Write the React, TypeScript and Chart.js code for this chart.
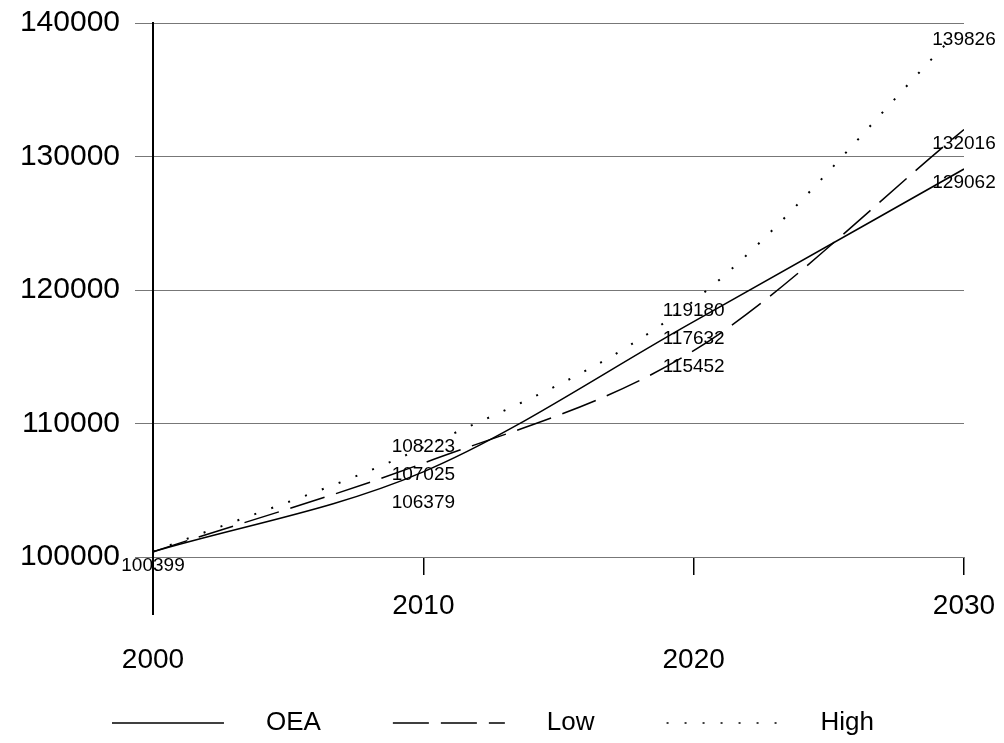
import React, { useEffect, useRef } from 'react';
import { Chart, registerables } from 'chart.js';

Chart.register(...registerables);

// ---- Data ----
const years = [2000, 2010, 2020, 2030];
const oeaValues = [100399, 106379, 117632, 129062];
const lowValues = [100399, 107025, 115452, 132016];
const highValues = [100399, 108223, 119180, 139826];
const seriesNames = ['OEA', 'Low', 'High'];
const yTickValues = [100000, 110000, 120000, 130000, 140000];
const xTickValues = [2000, 2010, 2020, 2030];

const FONT = '"Liberation Sans", Arial, Helvetica, sans-serif';

const toPoints = (vals: number[]) => years.map((yr, i) => ({ x: yr, y: vals[i] }));

// Data labels drawn near each point, with simple overlap avoidance
const dataLabelPlugin = {
  id: 'dataLabels',
  afterDatasetsDraw(chart: any) {
    const ctx = chart.ctx;
    ctx.save();
    ctx.font = `19px ${FONT}`;
    ctx.fillStyle = '#000';
    ctx.textAlign = 'center';
    ctx.textBaseline = 'middle';
    const n = years.length;
    const offset = 14;
    const gap = 28;
    for (let i = 0; i < n; i++) {
      let labels: { x: number; y: number; text: string }[] = [];
      chart.data.datasets.forEach((ds: any, di: number) => {
        const meta = chart.getDatasetMeta(di);
        const el = meta.data[i];
        if (!el) return;
        const text = String(ds.data[i].y);
        if (labels.some((l) => l.text === text)) return;
        labels.push({ x: el.x, y: el.y + offset, text });
      });
      labels.sort((a, b) => a.y - b.y);
      let clusters = labels.map((l) => ({ items: [l], center: l.y }));
      let changed = true;
      while (changed) {
        changed = false;
        for (let c = 0; c < clusters.length - 1; c++) {
          const a = clusters[c];
          const b = clusters[c + 1];
          const aBottom = a.center + ((a.items.length - 1) * gap) / 2;
          const bTop = b.center - ((b.items.length - 1) * gap) / 2;
          if (bTop - aBottom < gap) {
            const items = a.items.concat(b.items);
            const center =
              (a.center * a.items.length + b.center * b.items.length) / items.length;
            clusters.splice(c, 2, { items, center });
            changed = true;
            break;
          }
        }
      }
      clusters.forEach((cl) => {
        const start = cl.center - ((cl.items.length - 1) * gap) / 2;
        cl.items.forEach((it, k) => {
          ctx.fillText(it.text, it.x, start + k * gap);
        });
      });
    }
    ctx.restore();
  },
};

// Y axis line extending below plot area
const axisExtensionPlugin = {
  id: 'axisExtension',
  afterDraw(chart: any) {
    const { ctx, chartArea } = chart;
    ctx.save();
    ctx.strokeStyle = '#000';
    ctx.lineWidth = 2;
    ctx.beginPath();
    ctx.moveTo(chartArea.left, chartArea.top);
    ctx.lineTo(chartArea.left, chartArea.bottom + 58);
    ctx.stroke();
    ctx.restore();
  },
};

// Custom legend at the bottom
const legendPlugin = {
  id: 'customLegend',
  afterDraw(chart: any) {
    const ctx = chart.ctx;
    ctx.save();
    ctx.font = `26px ${FONT}`;
    const boxW = 112;
    const boxGap = 42;
    const itemGap = 72;
    const items = chart.data.datasets.map((ds: any) => ({
      text: ds.label,
      dash: ds.borderDash || [],
      w: ctx.measureText(ds.label).width,
    }));
    const total =
      items.reduce((s: number, it: any) => s + boxW + boxGap + it.w, 0) +
      itemGap * (items.length - 1);
    let x = (chart.width - total) / 2 - 9;
    const y = chart.height - 20;
    items.forEach((it: any) => {
      ctx.strokeStyle = '#000';
      ctx.lineWidth = 1.5;
      ctx.setLineDash(it.dash);
      ctx.beginPath();
      ctx.moveTo(x, y);
      ctx.lineTo(x + boxW, y);
      ctx.stroke();
      ctx.setLineDash([]);
      ctx.fillStyle = '#000';
      ctx.textAlign = 'left';
      ctx.textBaseline = 'middle';
      ctx.fillText(it.text, x + boxW + boxGap, y);
      x += boxW + boxGap + it.w + itemGap;
    });
    ctx.restore();
  },
};

export default function App() {
  const canvasRef = useRef<HTMLCanvasElement | null>(null);

  useEffect(() => {
    if (!canvasRef.current) return;
    const lineBase = {
      borderColor: '#000',
      borderWidth: 1.5,
      pointRadius: 0,
      fill: false,
      cubicInterpolationMode: 'monotone' as const,
    };
    const chart = new Chart(canvasRef.current, {
      type: 'line',
      data: {
        datasets: [
          { ...lineBase, label: seriesNames[0], data: toPoints(oeaValues), borderDash: [] },
          { ...lineBase, label: seriesNames[1], data: toPoints(lowValues), borderDash: [36, 12] },
          { ...lineBase, label: seriesNames[2], data: toPoints(highValues), borderDash: [2, 16], borderWidth: 2 },
        ],
      },
      options: {
        responsive: false,
        animation: false,
        layout: { padding: { left: 0, top: 23, right: 40, bottom: 0 } },
        plugins: {
          legend: { display: false },
          tooltip: { enabled: false },
        },
        scales: {
          x: {
            type: 'linear',
            min: 2000,
            max: 2030,
            afterBuildTicks: (scale: any) => {
              scale.ticks = xTickValues.map((v) => ({ value: v }));
            },
            afterFit: (scale: any) => {
              scale.height = 186;
              scale.paddingLeft = 0;
              scale.paddingRight = 0;
            },
            border: { display: false },
            grid: {
              drawOnChartArea: false,
              drawTicks: true,
              tickLength: 18,
              color: '#000',
              lineWidth: 1.5,
            },
            ticks: {
              color: '#000',
              padding: 5,
              maxRotation: 0,
              autoSkip: false,
              font: { family: FONT, size: 28, lineHeight: 1.9 },
              callback: (value: any, index: number) =>
                index % 2 === 0 ? ['', String(value)] : String(value),
            },
          },
          y: {
            type: 'linear',
            min: 100000,
            max: 140000,
            afterBuildTicks: (scale: any) => {
              scale.ticks = yTickValues.map((v) => ({ value: v }));
            },
            afterFit: (scale: any) => {
              scale.width = 153;
              scale.paddingTop = 0;
              scale.paddingBottom = 0;
            },
            border: { display: true, color: '#000', width: 2 },
            grid: {
              color: '#777',
              lineWidth: 1,
              drawTicks: true,
              tickLength: 18,
            },
            ticks: {
              color: '#000',
              padding: 15,
              font: { family: FONT, size: 30 },
              callback: (value: any) => String(value),
            },
          },
        },
      },
      plugins: [dataLabelPlugin, axisExtensionPlugin, legendPlugin],
    });
    return () => chart.destroy();
  }, []);

  return (
    <div
      style={{
        position: 'absolute',
        left: 0,
        top: 0,
        width: 1004,
        height: 743,
        background: '#fff',
      }}
    >
      <canvas ref={canvasRef} width={1004} height={743} />
    </div>
  );
}
